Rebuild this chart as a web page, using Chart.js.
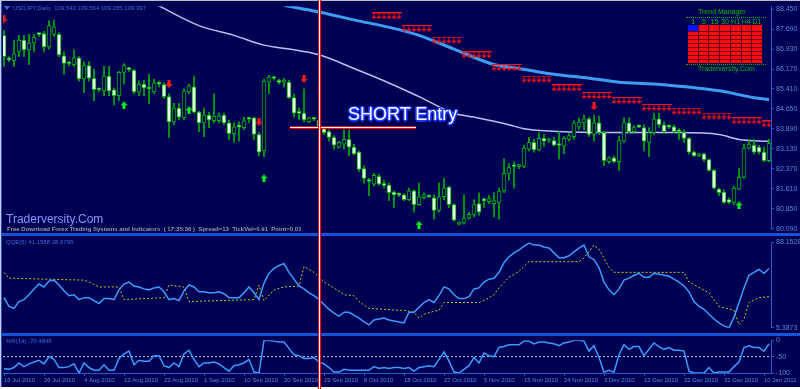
<!DOCTYPE html>
<html>
<head>
<meta charset="utf-8">
<script src="https://cdn.jsdelivr.net/npm/chart.js@4.4.1/dist/chart.umd.min.js"></script>
<style>
body { margin: 0; background: #fff; }
#wrap { position: relative; width: 800px; height: 389px; background: #000052; overflow: hidden; font-family: "Liberation Sans", Arial, sans-serif; }
#wrap canvas { position: absolute; left: 0; }
.t { position: absolute; white-space: nowrap; line-height: 1; }
.sep { position: absolute; left: 0; width: 800px; height: 3px; background: #1552d6; }
.tmline { position: absolute; left: 686px; width: 80px; border-top: 1px dotted #00b000; }
#tmgrid { position: absolute; left: 688px; top: 25px; width: 74px; height: 38px; display: grid; grid-template-columns: repeat(7, 1fr); grid-template-rows: 6px repeat(8, 3px); gap: 1px; background: #6a0018; }
#tmgrid div { background: #ff0a0a; }
#tmhead { position: absolute; left: 688px; top: 18px; width: 74px; display: grid; grid-template-columns: repeat(7, 1fr); font-size: 7px; color: #00c000; text-align: center; line-height: 1; }
</style>
</head>
<body>
<div id="wrap">
  <canvas id="main_chart" width="800" height="236" style="top:0"></canvas>
  <canvas id="qqe_chart" width="800" height="98" style="top:236px"></canvas>
  <canvas id="wpr_chart" width="800" height="53" style="top:334px"></canvas>

  <div class="sep" style="top:233px"></div>
  <div class="sep" style="top:333px"></div>

  <!-- window edges -->
  <div style="position:absolute;left:0;top:0;width:800px;height:1px;background:#b8bcc8"></div>
  <div style="position:absolute;left:0;top:0;width:1px;height:389px;background:#d0d0d0"></div>
  <div style="position:absolute;left:1px;top:1px;width:1px;height:386px;background:#1a4fc8"></div>
  <div style="position:absolute;left:0;top:387px;width:800px;height:2px;background:#ffffff"></div>

  <!-- titles -->
  <div style="position:absolute;left:4px;top:6px;width:0;height:0;border-left:3px solid transparent;border-right:3px solid transparent;border-top:4px solid #3a6ad8"></div>
  <div class="t" style="left:13px;top:5px;font-size:6px;color:#3a6ad8">USDJPY,Daily&nbsp; 109.543 109.564 109.285 109.397</div>
  <div class="t" style="left:6px;top:239px;font-size:6px;color:#3a6ad8">QQE(5) 41.1588 28.6795</div>
  <div class="t" style="left:6px;top:338px;font-size:6px;color:#3a6ad8">%R(14) -70.4848</div>

  <div class="t" style="left:6px;top:213px;font-size:12px;color:#8494ff">Traderversity.Com</div>
  <div class="t" style="left:7px;top:226px;font-size:6px;font-weight:bold;color:#9a9aa4">Free Download Forex Trading Systems and Indicators &nbsp;( 17:35:36 ) &nbsp;Spread=13 &nbsp;TickVal=0.91 &nbsp;Point=0.01</div>

  <!-- trend manager -->
  <div class="t" style="left:698px;top:8px;font-size:7px;color:#00c000">Trend Manager</div>
  <div class="tmline" style="top:17px"></div>
  <div id="tmhead"><span>1</span><span>5</span><span>15</span><span>30</span><span>H1</span><span>H4</span><span>D1</span></div>
  <div id="tmgrid"></div>
  <div class="tmline" style="top:64px"></div>
  <div class="t" style="left:698px;top:65px;font-size:7px;color:#00c000">Traderversity.Com</div>

  <!-- entry marks -->
  <div style="position:absolute;left:290px;top:126px;width:126px;height:3px;background:linear-gradient(#ff0000 0 1px,#ffffff 1px 2px,#ff0000 2px 3px)"></div>
  <div style="position:absolute;left:318px;top:0;width:3px;height:389px;background:linear-gradient(to right,#ff0000 0 1px,#ffffff 1px 2px,#ff0000 2px 3px)"></div>
  <div class="t" style="left:348px;top:105px;font-size:18px;color:#ffffff;text-shadow:-1px -1px 0 #1a36ff,1px -1px 0 #1a36ff,-1px 1px 0 #1a36ff,1px 1px 0 #1a36ff,0 -1.5px 0 #1a36ff,0 1.5px 0 #1a36ff,-1.5px 0 0 #1a36ff,1.5px 0 0 #1a36ff">SHORT Entry</div>
</div>

<script>
// price candles, one per daily bar (index 0 = 16 Jul 2010)
var opens = [
87.45, 86.53, 86.49, 86.82, 87.27, 86.90, 87.16, 87.49, 87.52, 87.01,
87.49, 87.49, 86.67, 86.38, 86.34, 86.60, 85.79, 86.30, 85.82, 85.38,
85.34, 85.90, 85.38, 85.16, 86.04, 86.16, 86.12, 85.30, 85.60, 85.42,
85.30, 85.60, 85.58, 85.12, 84.16, 84.68, 84.31, 85.30, 85.49, 84.53,
84.12, 84.42, 84.20, 84.20, 84.42, 84.12, 83.71, 83.97, 83.94, 84.27,
84.31, 83.68, 83.05, 85.67, 85.82, 85.67, 85.67, 85.67, 85.08, 84.49,
84.49, 84.16, 84.27, 84.23, 83.90, 83.79, 83.57, 83.20, 83.31, 83.49,
83.20, 83.01, 82.38, 81.90, 81.79, 82.09, 81.75, 81.75, 81.49, 81.38,
81.38, 81.20, 81.53, 81.01, 81.27, 81.31, 81.27, 80.79, 81.31, 81.68,
81.01, 80.27, 80.31, 80.50, 80.64, 81.05, 81.16, 81.12, 81.05, 81.09,
81.53, 82.20, 82.46, 82.46, 82.46, 83.12, 83.38, 83.09, 83.53, 83.45,
83.45, 83.27, 83.23, 83.49, 83.60, 83.97, 84.12, 84.27, 83.68, 84.12,
83.75, 82.64, 82.79, 82.64, 83.42, 84.12, 83.79, 83.97, 83.94, 83.38,
83.75, 84.27, 84.05, 83.97, 83.97, 83.79, 83.75, 83.53, 83.01, 82.86,
82.94, 82.72, 82.31, 81.60, 81.49, 81.20, 81.09, 81.60, 82.05, 83.16,
83.27, 83.20, 83.01, 82.68
];
var highs = [
87.64, 86.64, 87.27, 87.45, 87.45, 87.49, 87.49, 87.56, 87.60, 88.01,
88.04, 87.56, 86.82, 86.45, 86.90, 86.64, 86.45, 86.45, 86.16, 85.45,
86.27, 86.27, 85.45, 86.08, 86.38, 86.23, 86.16, 85.71, 85.75, 85.97,
85.79, 85.71, 85.64, 85.23, 84.86, 84.86, 85.42, 85.60, 85.90, 84.57,
84.68, 84.53, 85.23, 84.49, 84.49, 84.23, 84.12, 84.16, 84.34, 84.34,
84.34, 83.75, 85.79, 85.93, 85.90, 85.79, 85.82, 85.75, 85.23, 84.68,
85.42, 84.34, 84.31, 84.31, 83.97, 83.86, 83.64, 83.42, 83.86, 83.86,
83.31, 83.05, 82.49, 82.01, 82.20, 82.16, 81.94, 81.83, 81.53, 81.46,
81.42, 81.64, 81.57, 81.83, 81.46, 81.38, 81.38, 81.83, 82.01, 81.71,
81.05, 80.35, 81.38, 80.72, 81.20, 81.46, 81.27, 81.35, 81.46, 81.64,
82.75, 82.57, 82.64, 82.53, 83.27, 83.57, 83.49, 83.75, 83.68, 83.53,
83.57, 83.79, 83.60, 83.71, 84.20, 84.31, 84.42, 84.34, 84.42, 84.38,
83.79, 82.83, 82.86, 83.60, 84.31, 84.31, 84.01, 84.05, 84.05, 83.94,
84.49, 84.49, 84.16, 84.05, 84.05, 83.90, 83.86, 83.57, 83.05, 82.97,
82.97, 82.75, 82.35, 81.64, 81.57, 81.27, 81.71, 82.38, 83.31, 83.49,
83.49, 83.27, 83.20, 83.49
];
var lows = [
86.27, 86.45, 86.27, 86.64, 86.64, 86.34, 86.82, 87.41, 86.82, 86.93,
87.41, 86.64, 85.97, 86.30, 86.27, 85.71, 85.27, 85.71, 84.97, 85.30,
85.16, 85.16, 84.79, 84.97, 85.60, 86.08, 85.23, 85.16, 85.16, 84.86,
85.23, 85.49, 85.05, 83.57, 84.05, 84.23, 84.23, 85.23, 84.49, 83.79,
83.60, 83.94, 84.12, 84.12, 84.05, 83.49, 83.38, 83.42, 83.86, 84.12,
83.49, 82.86, 82.83, 85.23, 85.75, 85.60, 85.49, 85.05, 84.34, 84.23,
84.16, 84.12, 84.20, 83.86, 83.68, 83.42, 83.12, 83.16, 83.12, 82.86,
82.90, 82.27, 81.83, 81.35, 81.71, 81.75, 81.64, 81.16, 80.90, 81.31,
81.16, 81.16, 80.72, 80.98, 81.24, 81.27, 80.46, 80.72, 81.20, 80.90,
80.38, 80.24, 80.27, 80.46, 80.53, 80.61, 80.90, 81.05, 80.53, 80.46,
81.46, 81.94, 81.64, 82.38, 82.42, 83.05, 83.01, 83.05, 83.23, 83.38,
83.23, 82.75, 82.94, 83.42, 83.49, 83.86, 83.86, 83.60, 83.42, 83.68,
82.49, 82.57, 82.60, 82.31, 83.38, 83.75, 83.71, 83.94, 83.05, 82.83,
83.68, 83.97, 83.71, 83.90, 83.75, 83.49, 83.38, 82.94, 82.83, 82.83,
82.64, 82.27, 81.60, 81.35, 81.05, 81.05, 81.01, 81.57, 82.01, 83.12,
82.94, 82.94, 82.64, 82.64
];
var closes = [
86.64, 86.52, 86.75, 87.27, 86.90, 87.16, 87.38, 87.48, 87.01, 87.82,
87.78, 86.71, 86.38, 86.37, 86.60, 85.79, 86.30, 85.82, 85.38, 85.37,
85.90, 85.34, 85.16, 86.04, 86.30, 86.15, 85.30, 85.60, 85.45, 85.41,
85.64, 85.59, 85.12, 84.16, 84.68, 84.34, 85.34, 85.53, 84.53, 84.12,
84.42, 84.23, 84.38, 84.38, 84.12, 83.71, 83.97, 83.96, 84.20, 84.26,
83.68, 83.01, 85.71, 85.86, 85.81, 85.66, 85.68, 85.08, 84.49, 84.48,
84.23, 84.31, 84.26, 83.94, 83.75, 83.57, 83.27, 83.38, 83.49, 83.20,
82.94, 82.35, 82.01, 81.89, 82.12, 81.79, 81.74, 81.46, 81.38, 81.37,
81.20, 81.53, 81.01, 81.31, 81.38, 81.30, 80.79, 81.31, 81.64, 81.01,
80.42, 80.28, 80.50, 80.64, 81.01, 80.72, 81.15, 81.24, 81.16, 81.53,
82.20, 82.42, 82.45, 82.47, 83.16, 83.38, 83.09, 83.53, 83.42, 83.46,
83.27, 83.26, 83.53, 83.64, 84.12, 84.16, 84.27, 83.68, 84.12, 83.75,
82.68, 82.79, 82.64, 83.45, 84.12, 83.79, 83.94, 83.96, 83.42, 83.75,
84.27, 84.05, 83.79, 83.96, 83.79, 83.78, 83.53, 83.01, 82.86, 82.94,
82.72, 82.31, 81.64, 81.46, 81.09, 81.09, 81.64, 82.05, 83.16, 83.31,
83.01, 83.01, 82.68, 83.34
];

// moving averages read at a few bars
var maSlowIdx = [56, 63, 70, 79, 83, 90, 98, 103, 110, 117, 123, 130, 143, 150, 153];
var maSlowVal = [88.60, 88.34, 88.04, 87.67, 87.45, 86.93, 86.34, 86.19, 85.97, 85.82, 85.67, 85.60, 85.34, 85.08, 85.01];
var maFastIdx = [30, 39, 46, 52, 57, 63, 70, 77, 83, 90, 94, 101, 104, 111, 121, 135, 143, 147, 153];
var maFastVal = [88.67, 87.82, 87.45, 87.08, 86.93, 86.71, 86.19, 85.64, 85.12, 84.49, 84.34, 84.05, 83.90, 83.79, 83.75, 83.75, 83.68, 83.49, 83.42];

// arrows
var sellIdx = [0, 33, 51, 60, 118];
var sellVal = [88.07, 85.60, 84.16, 85.79, 84.75];
var buyIdx = [24, 37, 52, 83, 147];
var buyVal = [84.79, 84.60, 82.01, 80.24, 80.98];
var stopStart = [74, 80, 86, 92, 98, 104, 110, 116, 122, 128, 134, 140, 146, 152];
var stopLevel = [88.19, 87.71, 87.27, 86.71, 86.23, 85.79, 85.45, 85.16, 84.97, 84.71, 84.57, 84.38, 84.20, 84.08];

// QQE
var qqeFast = [
34.54, 26.08, 24.20, 30.78, 32.66, 37.36, 43.01, 47.71, 44.89, 50.53,
51.47, 46.77, 41.13, 36.42, 37.36, 32.66, 34.54, 34.54, 31.72, 28.90,
33.60, 33.60, 32.66, 42.07, 47.71, 49.59, 45.83, 44.89, 43.01, 42.07,
43.95, 44.89, 40.19, 32.66, 33.60, 31.72, 41.13, 46.77, 44.89, 40.19,
40.19, 39.24, 39.24, 40.19, 38.30, 34.54, 34.54, 34.54, 39.24, 44.89,
39.24, 32.66, 48.65, 58.05, 62.76, 65.58, 67.46, 59.00, 52.41, 45.83,
43.01, 39.24, 36.42, 32.66, 27.96, 23.26, 19.50, 16.67, 20.44, 20.44,
17.61, 14.79, 11.03, 8.21, 12.91, 13.85, 14.79, 12.91, 11.97, 11.03,
10.09, 20.44, 20.44, 25.14, 29.84, 32.66, 29.84, 36.42, 44.89, 43.01,
37.36, 33.60, 33.60, 35.48, 43.01, 43.95, 49.59, 52.41, 53.35, 59.00,
68.40, 74.04, 77.80, 80.63, 84.39, 87.21, 85.33, 85.33, 83.45, 82.51,
77.80, 73.10, 73.10, 74.98, 78.75, 82.51, 85.33, 74.04, 71.22, 63.70,
49.59, 42.07, 37.36, 43.01, 51.47, 53.35, 56.17, 58.05, 54.29, 54.29,
58.05, 57.11, 56.17, 55.23, 52.41, 49.59, 45.83, 40.19, 30.78, 26.08,
23.26, 18.55, 13.85, 10.09, 7.27, 5.39, 15.73, 29.84, 43.95, 56.17,
59.00, 61.82, 58.05, 62.76
];
var qqeSlowIdx = [0, 1, 16, 17, 19, 23, 24, 32, 33, 36, 37, 50, 51, 52, 54, 56, 59, 60, 62, 64,
  66, 68, 70, 71, 73, 79, 80, 82, 83, 84, 86, 87, 88, 95, 96, 98, 99, 101, 103, 105,
  115, 116, 118, 119, 121, 122, 136, 137, 141, 143, 146, 147, 148, 149, 151, 153];
var qqeSlowVal = [59.00, 53.35, 51.47, 49.59, 44.89, 44.89, 32.66, 34.54, 46.77, 44.89,
  30.78, 32.66, 46.77, 31.72, 42.07, 44.89, 45.83, 64.64, 59.00, 49.59,
  43.95, 37.36, 36.42, 30.78, 24.20, 22.32, 22.32, 20.44, 14.79, 18.55,
  21.38, 22.32, 29.84, 29.84, 31.72, 37.36, 43.95, 54.29, 59.94, 69.34,
  69.34, 73.10, 85.33, 81.57, 63.70, 59.00, 59.00, 49.59, 39.24, 26.08,
  22.32, 8.21, 13.85, 29.84, 34.54, 35.48];

// Williams %R
var wpr = [
-86.1, -88.9, -83.3, -69.4, -80.6, -72.2, -66.7, -61.1, -72.2, -50.0,
-58.3, -83.3, -83.3, -80.6, -72.2, -100, -69.4, -83.3, -91.7, -91.7,
-75.0, -91.7, -91.7, -55.6, -41.7, -33.3, -75.0, -61.1, -63.9, -63.9,
-47.2, -47.2, -77.8, -83.3, -69.4, -80.6, -41.7, -30.6, -58.3, -80.6,
-69.4, -69.4, -66.7, -72.2, -83.3, -94.4, -77.8, -75.0, -69.4, -58.3,
-97.2, -100, -0.5, -1.0, -2.8, -5.6, -5.6, -25.0, -44.4, -47.2,
-55.6, -55.6, -52.8, -66.7, -72.2, -83.3, -97.2, -97.2, -88.9, -91.7,
-91.7, -91.7, -91.7, -91.7, -80.6, -86.1, -83.3, -86.1, -83.3, -83.3,
-86.1, -83.3, -94.4, -83.3, -80.6, -77.8, -80.6, -58.3, -36.1, -63.9,
-97.2, -100, -88.9, -77.8, -52.8, -69.4, -38.9, -47.2, -50.0, -22.2,
-19.4, -13.9, -13.9, -13.9, -2.8, -2.8, -11.1, -5.6, -5.6, -8.3,
-11.1, -16.7, -8.3, -5.6, -0.5, -0.5, -2.8, -33.3, -16.7, -52.8,
-97.2, -91.7, -97.2, -44.4, -13.9, -27.8, -19.4, -19.4, -47.2, -27.8,
-8.3, -19.4, -27.8, -22.2, -30.6, -30.6, -33.3, -94.4, -100, -100,
-100, -83.3, -100, -97.2, -97.2, -97.2, -80.6, -66.7, -22.2, -16.7,
-22.2, -22.2, -33.3, -11.1
];
var wprLevel = -50;

// axis labels
var priceTicks = [88.450, 87.690, 86.930, 86.170, 85.410, 84.650, 83.890, 83.130, 82.370, 81.610, 80.850, 80.090];
var qqeTicks = [88.1528, 5.3873];
var wprTicks = [0, -50, -100];
var dateTickIdx = [0, 8, 16, 24, 32, 40, 48, 56, 64, 72, 80, 88, 96, 104, 112, 120, 128, 136, 144, 152];
var dateLabels = ['16 Jul 2010', '26 Jul 2010', '4 Aug 2010', '13 Aug 2010', '23 Aug 2010', '1 Sep 2010',
  '10 Sep 2010', '20 Sep 2010', '29 Sep 2010', '8 Oct 2010', '18 Oct 2010', '27 Oct 2010', '5 Nov 2010',
  '15 Nov 2010', '24 Nov 2010', '3 Dec 2010', '13 Dec 2010', '22 Dec 2010', '31 Dec 2010', '10 Jan 2011'];

var BG = '#000052';
var AXIS = '#2458d0';
var LABEL = '#5b86d6';
var X_MIN = -0.2, X_MAX = 153.4;

Chart.defaults.font.family = '"Liberation Sans", Arial, sans-serif';
Chart.defaults.animation = false;
Chart.defaults.plugins.legend.display = false;
Chart.defaults.plugins.tooltip.enabled = false;

function pairs(idx, vals) {
    var out = [];
    for (var i = 0; i < idx.length; i++) out.push({x: idx[i], y: vals[i]});
    return out;
}

// small arrow glyphs used as point styles
function arrowGlyph(color, up, big) {
    var c = document.createElement('canvas');
    var g = c.getContext('2d');
    if (big) {
        c.width = 7; c.height = 8;
        g.fillStyle = color;
        g.fillRect(2, 0, 3, 4);
        g.beginPath(); g.moveTo(0, 4); g.lineTo(7, 4); g.lineTo(3.5, 8); g.closePath(); g.fill();
    } else {
        c.width = 5; c.height = 7;
        g.fillStyle = color;
        g.fillRect(0, 0, 5, 1);
        g.fillRect(2, 1, 1, 3);
        g.beginPath(); g.moveTo(0, 4); g.lineTo(5, 4); g.lineTo(2.5, 7); g.closePath(); g.fill();
    }
    if (up) {
        var f = document.createElement('canvas');
        f.width = c.width; f.height = c.height;
        var fg = f.getContext('2d');
        fg.translate(0, c.height); fg.scale(1, -1);
        fg.drawImage(c, 0, 0);
        return f;
    }
    return c;
}

function xScale(show) {
    return {
        type: 'linear', min: X_MIN, max: X_MAX, offset: false, display: show,
        grid: { display: false }
    };
}

function rightAxis(min, max, ticks, fmt) {
    return {
        position: 'right', min: min, max: max, beginAtZero: false,
        afterBuildTicks: function(s) { s.ticks = ticks.map(function(v) { return {value: v}; }); },
        afterFit: function(s) { s.width = 29; },
        ticks: { autoSkip: false, color: LABEL, font: {size: 7}, padding: 2, callback: fmt },
        grid: { drawOnChartArea: false, tickLength: 3, color: AXIS },
        border: { display: true, color: AXIS }
    };
}

document.addEventListener("DOMContentLoaded", function() {

    // trend manager cells
    var grid = document.getElementById('tmgrid');
    for (var r = 0; r < 9; r++) {
        for (var c = 0; c < 7; c++) {
            var d = document.createElement('div');
            if (r === 0 && c === 0) d.style.background = '#0a14ff';
            grid.appendChild(d);
        }
    }

    var wicks = [], bodies = [], fills = [];
    for (var i = 0; i < closes.length; i++) {
        wicks.push({x: i, y: [lows[i], highs[i]]});
        bodies.push({x: i, y: [Math.min(opens[i], closes[i]), Math.max(opens[i], closes[i])]});
        fills.push(closes[i] < opens[i] ? '#f0fff0' : BG);
    }
    var stops = [];
    for (var b = 0; b < stopStart.length; b++) {
        for (var k = stopStart[b]; k < stopStart[b] + 6 && k < closes.length; k++) {
            stops.push({x: k, y: stopLevel[b]});
        }
    }

    var ctx = document.getElementById("main_chart").getContext('2d');
    var mainChart = new Chart(ctx, {
        type: 'bar',
        data: {
            datasets: [
                { type: 'line', data: pairs(sellIdx, sellVal), showLine: false, pointRadius: 3,
                  pointStyle: arrowGlyph('#ff1a1a', false, true), order: 0 },
                { type: 'line', data: pairs(buyIdx, buyVal), showLine: false, pointRadius: 3,
                  pointStyle: arrowGlyph('#10f020', true, true), order: 0 },
                { type: 'line', data: stops, showLine: false, pointRadius: 3,
                  pointStyle: arrowGlyph('#ff1010', false, false), order: 0 },
                { type: 'bar', data: bodies, barThickness: 4, backgroundColor: fills,
                  borderColor: '#00b400', borderWidth: 1, borderSkipped: false,
                  minBarLength: 2, grouped: false, order: 1 },
                { type: 'bar', data: wicks, barThickness: 1, backgroundColor: '#00b000',
                  grouped: false, order: 2 },
                { type: 'line', data: pairs(maSlowIdx, maSlowVal), borderColor: '#3d9df2',
                  borderWidth: 3, pointRadius: 0, cubicInterpolationMode: 'monotone', order: 3 },
                { type: 'line', data: pairs(maFastIdx, maFastVal), borderColor: '#b4c4ee',
                  borderWidth: 1.5, pointRadius: 0, cubicInterpolationMode: 'monotone', order: 3 }
            ]
        },
        options: {
            responsive: false,
            devicePixelRatio: 1,
            layout: { autoPadding: false, padding: { left: 3, top: 3, right: 0, bottom: 3 } },
            scales: {
                x: xScale(false),
                y: rightAxis(80.051, 88.561, priceTicks, function(v) { return v.toFixed(3); })
            }
        }
    });

    var ctx2 = document.getElementById("qqe_chart").getContext('2d');
    var qqeChart = new Chart(ctx2, {
        type: 'line',
        data: {
            datasets: [
                { data: qqeFast.map(function(v, i) { return {x: i, y: v}; }), borderColor: '#3a9cff',
                  borderWidth: 1.5, pointRadius: 0, order: 0 },
                { data: pairs(qqeSlowIdx, qqeSlowVal), borderColor: '#c8c818', borderWidth: 1,
                  borderDash: [2, 2], pointRadius: 0, order: 1 }
            ]
        },
        options: {
            responsive: false,
            devicePixelRatio: 1,
            layout: { autoPadding: false, padding: { left: 3, top: 5, right: 0, bottom: 5 } },
            scales: {
                x: xScale(false),
                y: rightAxis(5.3873, 88.1528, qqeTicks, function(v) { return v.toFixed(4); })
            }
        }
    });

    var ctx3 = document.getElementById("wpr_chart").getContext('2d');
    var wprChart = new Chart(ctx3, {
        type: 'line',
        data: {
            datasets: [
                { data: wpr.map(function(v, i) { return {x: i, y: v}; }), borderColor: '#3a9cff',
                  borderWidth: 1.5, pointRadius: 0, order: 0 },
                { data: [{x: X_MIN, y: wprLevel}, {x: X_MAX, y: wprLevel}], borderColor: '#c8c8dc',
                  borderWidth: 1, borderDash: [2, 2], pointRadius: 0, order: 1 }
            ]
        },
        options: {
            responsive: false,
            devicePixelRatio: 1,
            layout: { autoPadding: false, padding: { left: 3, top: 3, right: 0, bottom: 0 } },
            scales: {
                x: {
                    type: 'linear', min: X_MIN, max: X_MAX, offset: false,
                    afterBuildTicks: function(s) { s.ticks = dateTickIdx.map(function(v) { return {value: v}; }); },
                    afterFit: function(s) { s.height = 14; },
                    ticks: { autoSkip: false, maxRotation: 0, align: 'start', color: LABEL,
                             font: {size: 6}, padding: 1,
                             callback: function(v, idx) { return dateLabels[idx]; } },
                    grid: { drawOnChartArea: false, tickLength: 3, color: AXIS },
                    border: { display: true, color: AXIS }
                },
                y: rightAxis(-100, 0, wprTicks, function(v) { return String(v); })
            }
        }
    });
});
</script>
</body>
</html>
